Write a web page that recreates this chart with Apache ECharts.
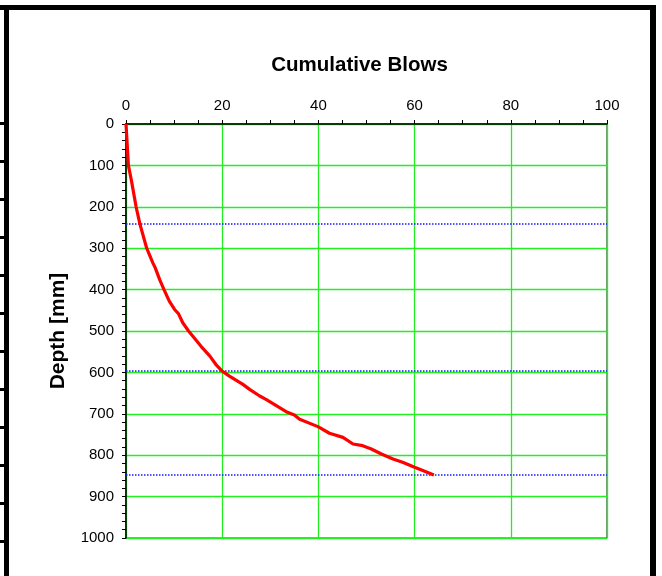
<!DOCTYPE html>
<html>
<head>
<meta charset="utf-8">
<script src="https://cdn.jsdelivr.net/npm/echarts@6/dist/echarts.min.js"></script>
<style>
html,body{margin:0;padding:0;background:#fff;}
#chart{width:662px;height:576px;}
</style>
</head>
<body>
<div id="chart"></div>
<script>
// Cumulative blows vs depth (DCP test)
var blows = [0, 0.5, 1.1, 2.1, 2.9, 4.3, 5.6, 6.1, 7.0, 7.9, 9.0, 10.1, 10.9, 11.8, 13.0, 14.2, 15.6, 17.4, 18.7, 20.0, 21.5, 24.3, 25.7, 27.8, 29.1, 33.3, 35.0, 36.1, 39.9, 42.3, 45.1, 47.2, 49.2, 51.0, 53.1, 55.5, 57.5, 60.0, 61.7, 64.0];
var depths = [0, 100, 135, 200, 242, 300, 336, 348, 376, 400, 428, 448, 458, 480, 500, 517, 537, 560, 581, 597, 609, 629, 641, 657, 665, 695, 703, 713, 731, 747, 757, 773, 777, 785, 797, 809, 817, 829, 837, 848];
var layerDepths = [242, 595, 848];
var xTicks = [0, 20, 40, 60, 80, 100];
var yTicks = [0, 100, 200, 300, 400, 500, 600, 700, 800, 900, 1000];

var FONT = 'Liberation Sans, Arial, sans-serif';
var curve = blows.map(function (b, i) { return [b, depths[i]]; });

// decorative outer frame
var frame = [
  {type: 'rect', shape: {x: 0, y: 5, width: 655, height: 5}, style: {fill: '#000'}},
  {type: 'rect', shape: {x: 4, y: 5, width: 5, height: 571}, style: {fill: '#000'}},
  {type: 'rect', shape: {x: 650, y: 5, width: 6, height: 571}, style: {fill: '#000'}}
];
for (var k = 0; k < 12; k++) {
  frame.push({type: 'rect', shape: {x: 0, y: 122 + 38 * k, width: 5, height: 3}, style: {fill: '#000'}});
}

var chart = echarts.init(document.getElementById('chart'), null, {renderer: 'canvas'});
chart.setOption({
  animation: false,
  backgroundColor: '#fff',
  graphic: frame,
  grid: {left: 126, top: 124, width: 481, height: 414, show: true, borderColor: '#1f5a1f', borderWidth: 1.2, backgroundColor: 'transparent'},
  xAxis: {
    type: 'value', position: 'top', min: xTicks[0], max: xTicks[xTicks.length - 1], interval: 20,
    name: 'Cumulative Blows', nameLocation: 'middle', nameGap: 48,
    nameTextStyle: {fontFamily: FONT, fontSize: 20.5, fontWeight: 'bold', color: '#000', padding: [0, 14, 0, 0]},
    axisLine: {show: true, onZero: false, lineStyle: {color: '#000', width: 1.5}},
    axisTick: {show: true, inside: false, length: 4, lineStyle: {color: '#000', width: 1}},
    minorTick: {show: true, splitNumber: 4, length: 4, lineStyle: {color: '#000', width: 1}},
    axisLabel: {fontFamily: FONT, fontSize: 15, color: '#000', margin: 11, formatter: function (v) { return String(v); }},
    splitLine: {show: true, lineStyle: {color: '#22ee22', width: 1.3}},
    minorSplitLine: {show: false}
  },
  yAxis: {
    type: 'value', inverse: true, min: yTicks[0], max: yTicks[yTicks.length - 1], interval: 100,
    name: 'Depth [mm]', nameLocation: 'middle', nameGap: 57, nameRotate: 90,
    nameTextStyle: {fontFamily: FONT, fontSize: 21, fontWeight: 'bold', color: '#000'},
    axisLine: {show: true, onZero: false, lineStyle: {color: '#000', width: 1.5}},
    axisTick: {show: true, inside: false, length: 4, lineStyle: {color: '#000', width: 1}},
    minorTick: {show: true, splitNumber: 5, length: 4, lineStyle: {color: '#000', width: 1}},
    axisLabel: {fontFamily: FONT, fontSize: 15, color: '#000', margin: 12, formatter: function (v) { return String(v); }},
    splitLine: {show: true, lineStyle: {color: '#22ee22', width: 1.3}},
    minorSplitLine: {show: false}
  },
  series: [
    {
      type: 'line', data: curve, showSymbol: false, symbol: 'none', smooth: false,
      lineStyle: {color: '#ff0000', width: 3.2}, z: 5,
      markLine: {
        silent: true, symbol: 'none', label: {show: false},
        lineStyle: {color: '#1a1aff', type: 'dotted', width: 1.5},
        data: layerDepths.map(function (d) { return {yAxis: d}; })
      }
    }
  ]
});
</script>
</body>
</html>
